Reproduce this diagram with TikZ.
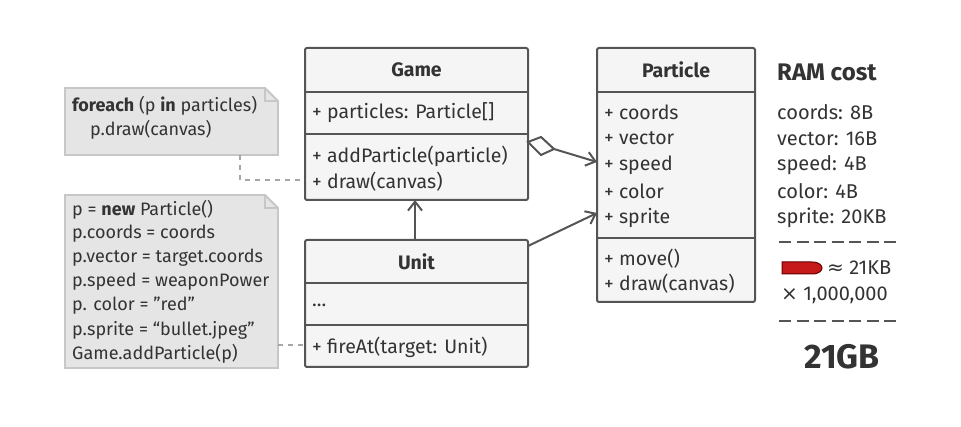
\documentclass[tikz,border=0pt]{standalone}
\usepackage{fontspec}
\setmainfont{Fira Sans}
\newfontfamily\symf{DejaVu Sans}
\usetikzlibrary{arrows.meta}
\definecolor{ln}{HTML}{555555}
\definecolor{txt}{HTML}{333333}
\begin{document}
\begin{tikzpicture}[x=1pt,y=-1pt,font=\fontsize{19.5}{21}\selectfont,text=txt,
 box/.style={draw=ln,line width=2pt,fill=black!4,rounded corners=2pt},
 sep/.style={draw=ln,line width=2pt},
 note/.style={draw=black!22,line width=1.8pt,fill=black!10},
 conn/.style={draw=ln,line width=2pt,-{Straight Barb[length=9pt,width=14pt]}},
 dsh/.style={draw=black!35,line width=1.6pt,dash pattern=on 5pt off 5pt},
 lt/.style={anchor=west,inner sep=0pt},
 nt/.style={anchor=west,inner sep=0pt,font=\fontsize{18}{20}\selectfont},
 hd/.style={font=\fontsize{19.5}{21}\selectfont\bfseries}]
\useasboundingbox (0,0) rectangle (961,427);
% Game
\draw[box] (305,48) rectangle (528,200);
\draw[sep] (305,92) -- (528,92) (305,134) -- (528,134);
\node[hd] (gt) at (416.5,70) {Game};
\node[lt] (g1) at (312,113) {+ particles: Particle[]};
\node[lt] (g2) at (312,156) {+ addParticle(particle)};
\node[lt] (g3) at (312,182) {+ draw(canvas)};
\coordinate (gbot) at (415,200);
\coordinate (gright) at (528,142);
\coordinate (gleft) at (305,180);
% Particle
\draw[box] (597,48) rectangle (755,302);
\draw[sep] (597,92) -- (755,92) (597,238) -- (755,238);
\node[hd] (pt) at (676,70) {Particle};
\foreach \t [count=\i] in {coords,vector,speed,color,sprite}
  \node[lt] at (604,112+26.5*\i-26.5) {+ \t};
\node[lt] (p6) at (604,259) {+ move()};
\node[lt] (p7) at (604,284) {+ draw(canvas)};
\coordinate (pa) at (597,162);
\coordinate (pb) at (597,213);
% Unit
\draw[box] (305,240) rectangle (528,367);
\draw[sep] (305,283) -- (528,283) (305,325) -- (528,325);
\node[hd] (ut) at (416.5,262) {Unit};
\node[lt] (u1) at (312,305) {...};
\node[lt] (u2) at (312,347) {+ fireAt(target: Unit)};
\coordinate (utop) at (415,240);
\coordinate (uright) at (528,246);
\coordinate (uleft) at (305,345);
% connectors
\draw[conn] (utop) -- (gbot);
\draw[conn] (uright) -- (pb);
\draw[ln,line width=2pt,fill=white] (gright) -- (541,137) -- (554,149) -- (541,155) -- cycle;
\draw[conn] (554,149) -- (pa);
% notes
\draw[note] (65,88) -- (265,88) -- (278,101) -- (278,155) -- (65,155) -- cycle;
\draw[black!22,line width=1.8pt] (265,88) -- (265,101) -- (278,101);
\node[nt] (n1) at (72,106) {\textbf{foreach} (p \textbf{in} particles)};
\node[nt] (n2) at (90,130) {p.draw(canvas)};
\coordinate (n1b) at (240,155);
\draw[dsh] (n1b) -- (240,180) -- (gleft);
\draw[note] (65,195) -- (265,195) -- (278,208) -- (278,368) -- (65,368) -- cycle;
\draw[black!22,line width=1.8pt] (265,195) -- (265,208) -- (278,208);
\foreach \t [count=\i] in {p = \textbf{new} Particle(),p.coords = coords,p.vector = target.coords,p.speed = weaponPower,p. color = \symbol{34}red\symbol{34},p.sprite = “bullet.jpeg”,Game.addParticle(p)}
  \node[nt] at (72,210+24*\i-24) {\t};
\coordinate (n2r) at (278,345);
\draw[dsh] (n2r) -- (uleft);
% RAM cost
\node[lt,font=\fontsize{24}{26}\selectfont\bfseries] (rt) at (777,72) {RAM cost};
\foreach \t [count=\i] in {coords: 8B,vector: 16B,speed: 4B,color: 4B,sprite: 20KB}
  \node[lt,font=\fontsize{20}{22}\selectfont] at (777,112+26.5*\i-26.5) {\t};
\draw[ln,line width=1.3pt,dash pattern=on 12pt off 5.5pt] (779,242) -- (897,242);
\draw[ln,line width=1.3pt,dash pattern=on 12pt off 5.5pt] (779,321) -- (897,321);
\draw[fill=red!75!black!90,draw=red!40!black,line width=1pt] (782,262) -- (812,262) .. controls (820,262) and (822,266) .. (822,268) .. controls (822,270) and (820,274) .. (812,274) -- (782,274) -- cycle;
\node[lt,font=\fontsize{20}{22}\selectfont] (r1) at (827,268) {{\symf ≈} 21KB};
\node[lt,font=\fontsize{20}{22}\selectfont] (r2) at (781,295) {{\symf ×} 1,000,000};
\node[font=\fontsize{34}{36}\selectfont\bfseries] (r3) at (842,357) {21GB};
\end{tikzpicture}
\end{document}
